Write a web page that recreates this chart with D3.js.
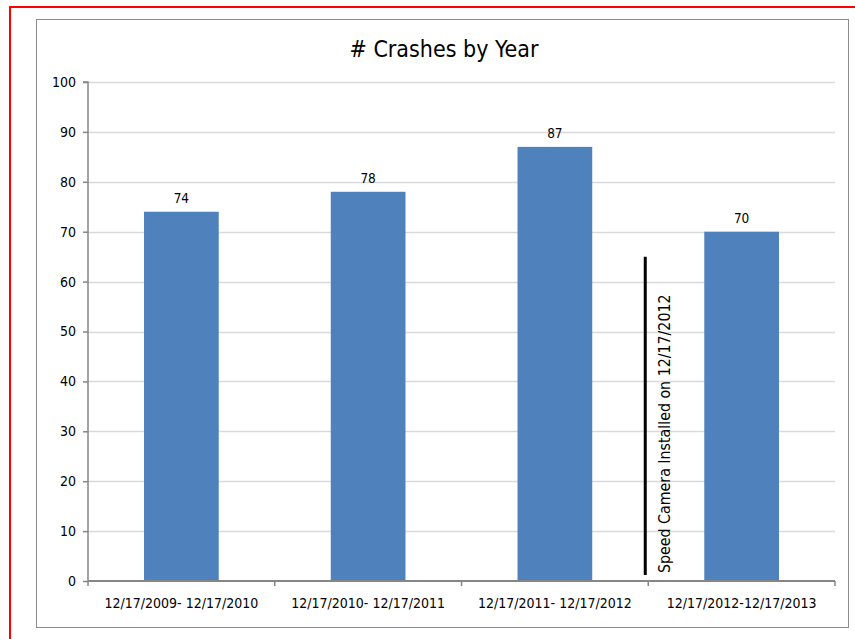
<!DOCTYPE html>
<html>
<head>
<meta charset="utf-8">
<script src="https://cdn.jsdelivr.net/npm/d3@7"></script>
<style>
  body { margin: 0; background: #fff; }
  svg text { font-family: "Liberation Sans Narrow", "DejaVu Sans Condensed", "Liberation Sans", sans-serif; fill: #000; }
</style>
</head>
<body>
<div id="chart"></div>
<script>
// data
var categories = ["12/17/2009- 12/17/2010", "12/17/2010- 12/17/2011", "12/17/2011- 12/17/2012", "12/17/2012-12/17/2013"];
var crashes = [74, 78, 87, 70];
var yTicks = [0, 10, 20, 30, 40, 50, 60, 70, 80, 90, 100];
var markerValues = [1.2, 65];
var markerLabel = "Speed Camera Installed on 12/17/2012";

(function () {
  var W = 855, H = 639,
    plot = {left: 88, right: 835, top: 82, bottom: 581};

  var svg = d3.select("#chart").append("svg")
    .attr("width", W)
    .attr("height", H);

  // outer red frame
  svg.append("rect")
    .attr("x", 10).attr("y", 7).attr("width", W - 8).attr("height", H)
    .attr("fill", "none").attr("stroke", "#ff0000").attr("stroke-width", 2);

  // chart area border
  svg.append("rect")
    .attr("x", 36.5).attr("y", 19.5).attr("width", 812).attr("height", 608)
    .attr("fill", "#fff").attr("stroke", "#8c8c8c").attr("stroke-width", 1);

  var x = d3.scaleBand()
    .domain(categories)
    .range([plot.left, plot.right])
    .paddingInner(0.6)
    .paddingOuter(0.3);

  var y = d3.scaleLinear()
    .domain([0, 100])
    .range([plot.bottom, plot.top]);

  // gridlines
  svg.append("g")
    .selectAll("line")
    .data(yTicks.slice(1))
    .enter().append("line")
    .attr("x1", plot.left).attr("x2", plot.right)
    .attr("y1", function (d) { return Math.round(y(d)) + 0.5; })
    .attr("y2", function (d) { return Math.round(y(d)) + 0.5; })
    .attr("stroke", "#d9d9d9").attr("stroke-width", 1.5);

  // bars
  svg.append("g")
    .selectAll("rect")
    .data(crashes)
    .enter().append("rect")
    .attr("x", function (d, i) { return x(categories[i]); })
    .attr("width", x.bandwidth())
    .attr("y", function (d) { return y(d); })
    .attr("height", function (d) { return y(0) - y(d); })
    .attr("fill", "#4f81bd");

  // value labels
  svg.append("g")
    .selectAll("text")
    .data(crashes)
    .enter().append("text")
    .attr("x", function (d, i) { return x(categories[i]) + x.bandwidth() / 2; })
    .attr("y", function (d) { return y(d) - 9; })
    .attr("text-anchor", "middle")
    .attr("font-size", 13.5)
    .text(function (d) { return d; });

  // y axis
  var yAxis = svg.append("g")
    .attr("transform", "translate(" + plot.left + ",0)")
    .call(d3.axisLeft(y).tickValues(yTicks).tickSize(5).tickPadding(7));
  yAxis.selectAll("text").attr("font-size", 14).style("font-family", null).attr("fill", "#000");
  yAxis.selectAll("line, path").attr("stroke", "#868686").attr("stroke-width", 1.5);
  yAxis.select(".domain").attr("d", "M-5," + plot.top + "H0V" + plot.bottom);

  // x axis
  var xAxis = svg.append("g")
    .attr("transform", "translate(0," + plot.bottom + ")");
  xAxis.append("line")
    .attr("x1", plot.left).attr("x2", plot.right)
    .attr("stroke", "#868686").attr("stroke-width", 2);
  var step = x.step();
  var bounds = d3.range(categories.length + 1).map(function (i) {
    return x(categories[0]) - x.paddingOuter() * step + step * i;
  });
  xAxis.selectAll(".tk")
    .data(bounds)
    .enter().append("line")
    .attr("x1", function (d) { return d; }).attr("x2", function (d) { return d; })
    .attr("y1", 0).attr("y2", 5)
    .attr("stroke", "#868686").attr("stroke-width", 1.5);
  xAxis.selectAll(".lbl")
    .data(categories)
    .enter().append("text")
    .attr("x", function (d) { return x(d) + x.bandwidth() / 2; })
    .attr("y", 27)
    .attr("text-anchor", "middle")
    .attr("font-size", 14)
    .text(function (d) { return d; });

  // speed camera marker
  var mx = bounds[3] - 3;
  svg.append("line")
    .attr("x1", mx).attr("x2", mx)
    .attr("y1", y(markerValues[0])).attr("y2", y(markerValues[1]))
    .attr("stroke", "#000").attr("stroke-width", 3);
  svg.append("text")
    .attr("transform", "translate(" + (mx + 25) + "," + (y(markerValues[0]) - 2) + ") rotate(-90)")
    .attr("font-size", 15.8)
    .text(markerLabel);

  // title
  svg.append("text")
    .attr("x", 444).attr("y", 57)
    .attr("text-anchor", "middle")
    .attr("font-size", 23)
    .text("# Crashes by Year");
}());
</script>
</body>
</html>
